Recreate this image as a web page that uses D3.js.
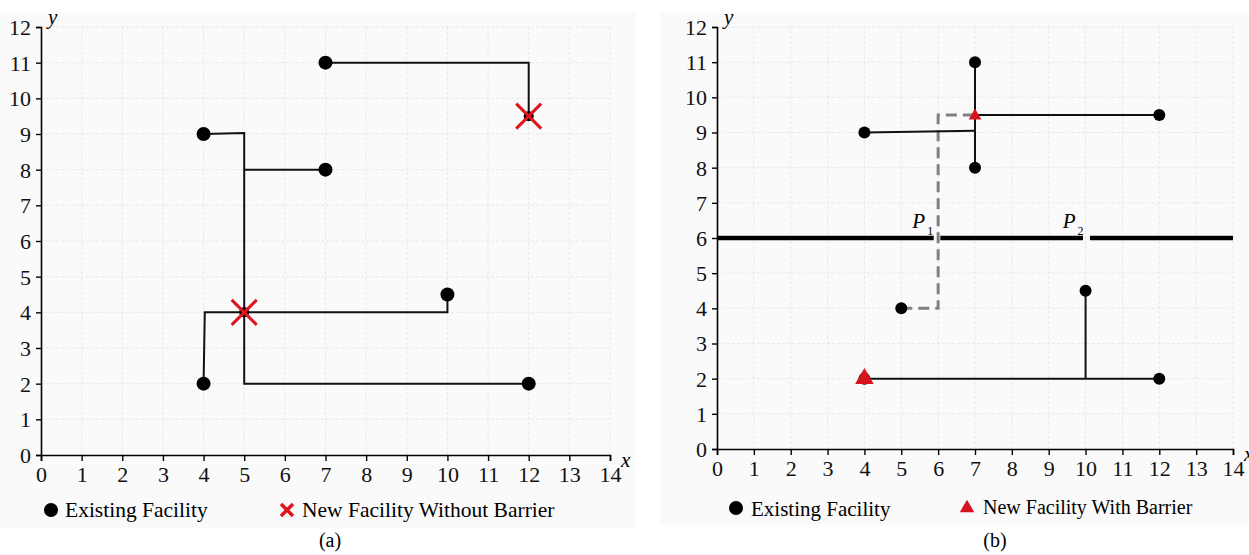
<!DOCTYPE html>
<html><head><meta charset="utf-8">
<script src="https://cdn.jsdelivr.net/npm/d3@7"></script>
<style>body{margin:0;background:#fff}svg{display:block}svg text{font-family:"Liberation Serif","Times New Roman",serif !important}</style>
</head><body>
<svg id="c" width="1249" height="555"></svg>
<script>
// ---- data ----
const xTicks = d3.range(0, 15);
const yTicks = d3.range(0, 13);
const existingX = [7, 4, 12, 7, 10, 5, 4, 12];
const existingY = [11, 9, 9.5, 8, 4.5, 4, 2, 2];
// panel (a): new facilities without barrier
const newAX = [12, 5];
const newAY = [9.5, 4];
// panel (a) rectilinear paths
const pathsA = [
  [[7, 11], [12, 11], [12, 9.5]],
  [[4, 9], [5, 9.03], [5, 2], [12, 2]],
  [[5, 8], [7, 8]],
  [[4, 2], [4.03, 4], [10, 4], [10, 4.5]]
];
// panel (b): new facilities with barrier
const newBX = [7, 4];
const newBY = [9.5, 2];
const pathsB = [
  [[7, 11], [7, 8]],
  [[7, 9.5], [12, 9.5]],
  [[4, 9], [7, 9.05]],
  [[10, 4.5], [10, 2]],
  [[4, 2], [12, 2]]
];
const dashedB = [[5, 4], [6, 4], [6, 9.5], [7, 9.5]];
const barrierY = 6;
const barrierSegs = [[0, 5.88], [6.06, 9.93], [10.12, 14]];
const passages = [{name: "P", sub: "1", x: 5.3, y: 6.28}, {name: "P", sub: "2", x: 9.38, y: 6.28}];

const svg = d3.select("#c");
const FONT = "Liberation Serif";

function panel(cfg) {
  const g = svg.append("g");
  g.append("rect").attr("x", cfg.bg[0]).attr("y", cfg.bg[1]).attr("width", cfg.bg[2]).attr("height", cfg.bg[3]).attr("fill", "#fafafa");
  const x = d3.scaleLinear().domain([0, 14]).range([cfg.x0, cfg.x1]);
  const y = d3.scaleLinear().domain([0, 12]).range([cfg.y0, cfg.y1]);
  // grid
  g.selectAll(".gx").data(xTicks.slice(1)).join("line")
    .attr("x1", d => x(d)).attr("x2", d => x(d)).attr("y1", y(0)).attr("y2", y(12))
    .attr("stroke", "#e8e8e8").attr("stroke-dasharray", "3,2").attr("stroke-width", 1);
  g.selectAll(".gy").data(yTicks.slice(1)).join("line")
    .attr("x1", x(0)).attr("x2", x(14)).attr("y1", d => y(d)).attr("y2", d => y(d))
    .attr("stroke", "#e8e8e8").attr("stroke-dasharray", "3,2").attr("stroke-width", 1);
  // axes
  const ax = g.append("g").attr("transform", `translate(0,${y(0)})`)
    .call(d3.axisBottom(x).tickValues(xTicks).tickSize(6).tickPadding(5).tickFormat(d3.format("d")));
  const ay = g.append("g").attr("transform", `translate(${x(0)},0)`)
    .call(d3.axisLeft(y).tickValues(yTicks).tickSize(5).tickPadding(5).tickFormat(d3.format("d")));
  [ax, ay].forEach(a => {
    a.attr("font-family", FONT).attr("font-size", 22);
    a.select(".domain").attr("stroke", "#000").attr("stroke-width", 1.6);
    a.selectAll(".tick line").attr("stroke", "#000").attr("stroke-width", 1.4);
    a.selectAll("text").attr("fill", "#111");
  });
  ay.selectAll("text").attr("dy", "0.34em");
  g.append("text").attr("x", x(14) + 11).attr("y", y(0) + 12).attr("font-size", 21).attr("font-style", "italic").text("x");
  g.append("text").attr("x", x(0) + 7).attr("y", y(12) - 3).attr("font-size", 21).attr("font-style", "italic").text("y");
  return {g, x, y};
}

const line = (x, y) => d3.line().x(d => x(d[0])).y(d => y(d[1]));

function xMark(g, cx, cy, s, w) {
  g.append("path").attr("d", `M${cx - s},${cy - s}L${cx + s},${cy + s}M${cx - s},${cy + s}L${cx + s},${cy - s}`)
    .attr("stroke", "#e0141e").attr("stroke-width", w).attr("fill", "none");
}

// ---- panel (a) ----
const A = panel({x0: 41, x1: 610, y0: 455, y1: 27, bg: [0, 13, 636, 515]});
A.g.selectAll(".pa").data(pathsA).join("path").attr("d", line(A.x, A.y))
  .attr("fill", "none").attr("stroke", "#111").attr("stroke-width", 2);
A.g.selectAll(".ea").data(existingX).join("circle")
  .attr("cx", d => A.x(d)).attr("cy", (d, i) => A.y(existingY[i]))
  .attr("r", (d, i) => newAX.some((nx, j) => nx === d && newAY[j] === existingY[i]) ? 5 : 7).attr("fill", "#000");
newAX.forEach((d, i) => xMark(A.g, A.x(d), A.y(newAY[i]), 12.5, 3));
// legend (a)
A.g.append("circle").attr("cx", 51).attr("cy", 510).attr("r", 7).attr("fill", "#000");
A.g.append("text").attr("x", 65).attr("y", 517).attr("font-size", 21.5).text("Existing Facility");
xMark(A.g, 287, 510, 6, 3.5);
A.g.append("text").attr("x", 302).attr("y", 517).attr("font-size", 21.5).text("New Facility Without Barrier");
svg.append("text").attr("x", 330).attr("y", 547).attr("text-anchor", "middle").attr("font-size", 20).text("(a)");

// ---- panel (b) ----
const B = panel({x0: 717, x1: 1233, y0: 449, y1: 27, bg: [660, 13, 589, 512]});
B.g.selectAll(".bar").data(barrierSegs).join("line")
  .attr("x1", d => B.x(d[0])).attr("x2", d => B.x(d[1])).attr("y1", B.y(barrierY)).attr("y2", B.y(barrierY))
  .attr("stroke", "#000").attr("stroke-width", 4.5);
passages.forEach(p => {
  const t = B.g.append("text").attr("x", B.x(p.x)).attr("y", B.y(p.y)).attr("font-size", 21).attr("font-style", "italic").text(p.name);
  t.append("tspan").attr("font-size", 12).attr("font-style", "normal").attr("dy", 7).attr("dx", 2).text(p.sub);
});
B.g.append("path").attr("d", line(B.x, B.y)(dashedB)).attr("fill", "none")
  .attr("stroke", "#808080").attr("stroke-width", 3).attr("stroke-dasharray", "11,6");
B.g.selectAll(".pb").data(pathsB).join("path").attr("d", line(B.x, B.y))
  .attr("fill", "none").attr("stroke", "#111").attr("stroke-width", 2);
B.g.selectAll(".eb").data(existingX).join("circle")
  .attr("cx", d => B.x(d)).attr("cy", (d, i) => B.y(existingY[i]))
  .attr("r", 6).attr("fill", "#000");
const tri = d3.symbol().type(d3.symbolTriangle);
B.g.selectAll(".nb").data(newBX).join("path")
  .attr("d", (d, i) => tri.size(i === 0 ? 70 : 150)())
  .attr("transform", (d, i) => `translate(${B.x(d)},${B.y(newBY[i]) + (i === 0 ? 1 : 0)})`)
  .attr("fill", "#d7141e");
// legend (b)
B.g.append("circle").attr("cx", 736).attr("cy", 508).attr("r", 7).attr("fill", "#000");
B.g.append("text").attr("x", 751).attr("y", 516).attr("font-size", 21).text("Existing Facility");
B.g.append("path").attr("d", tri.size(90)()).attr("transform", "translate(967,508)").attr("fill", "#d7141e");
B.g.append("text").attr("x", 983).attr("y", 514).attr("font-size", 20).text("New Facility With Barrier");
svg.append("text").attr("x", 995).attr("y", 547).attr("text-anchor", "middle").attr("font-size", 20).text("(b)");
</script>
</body></html>
